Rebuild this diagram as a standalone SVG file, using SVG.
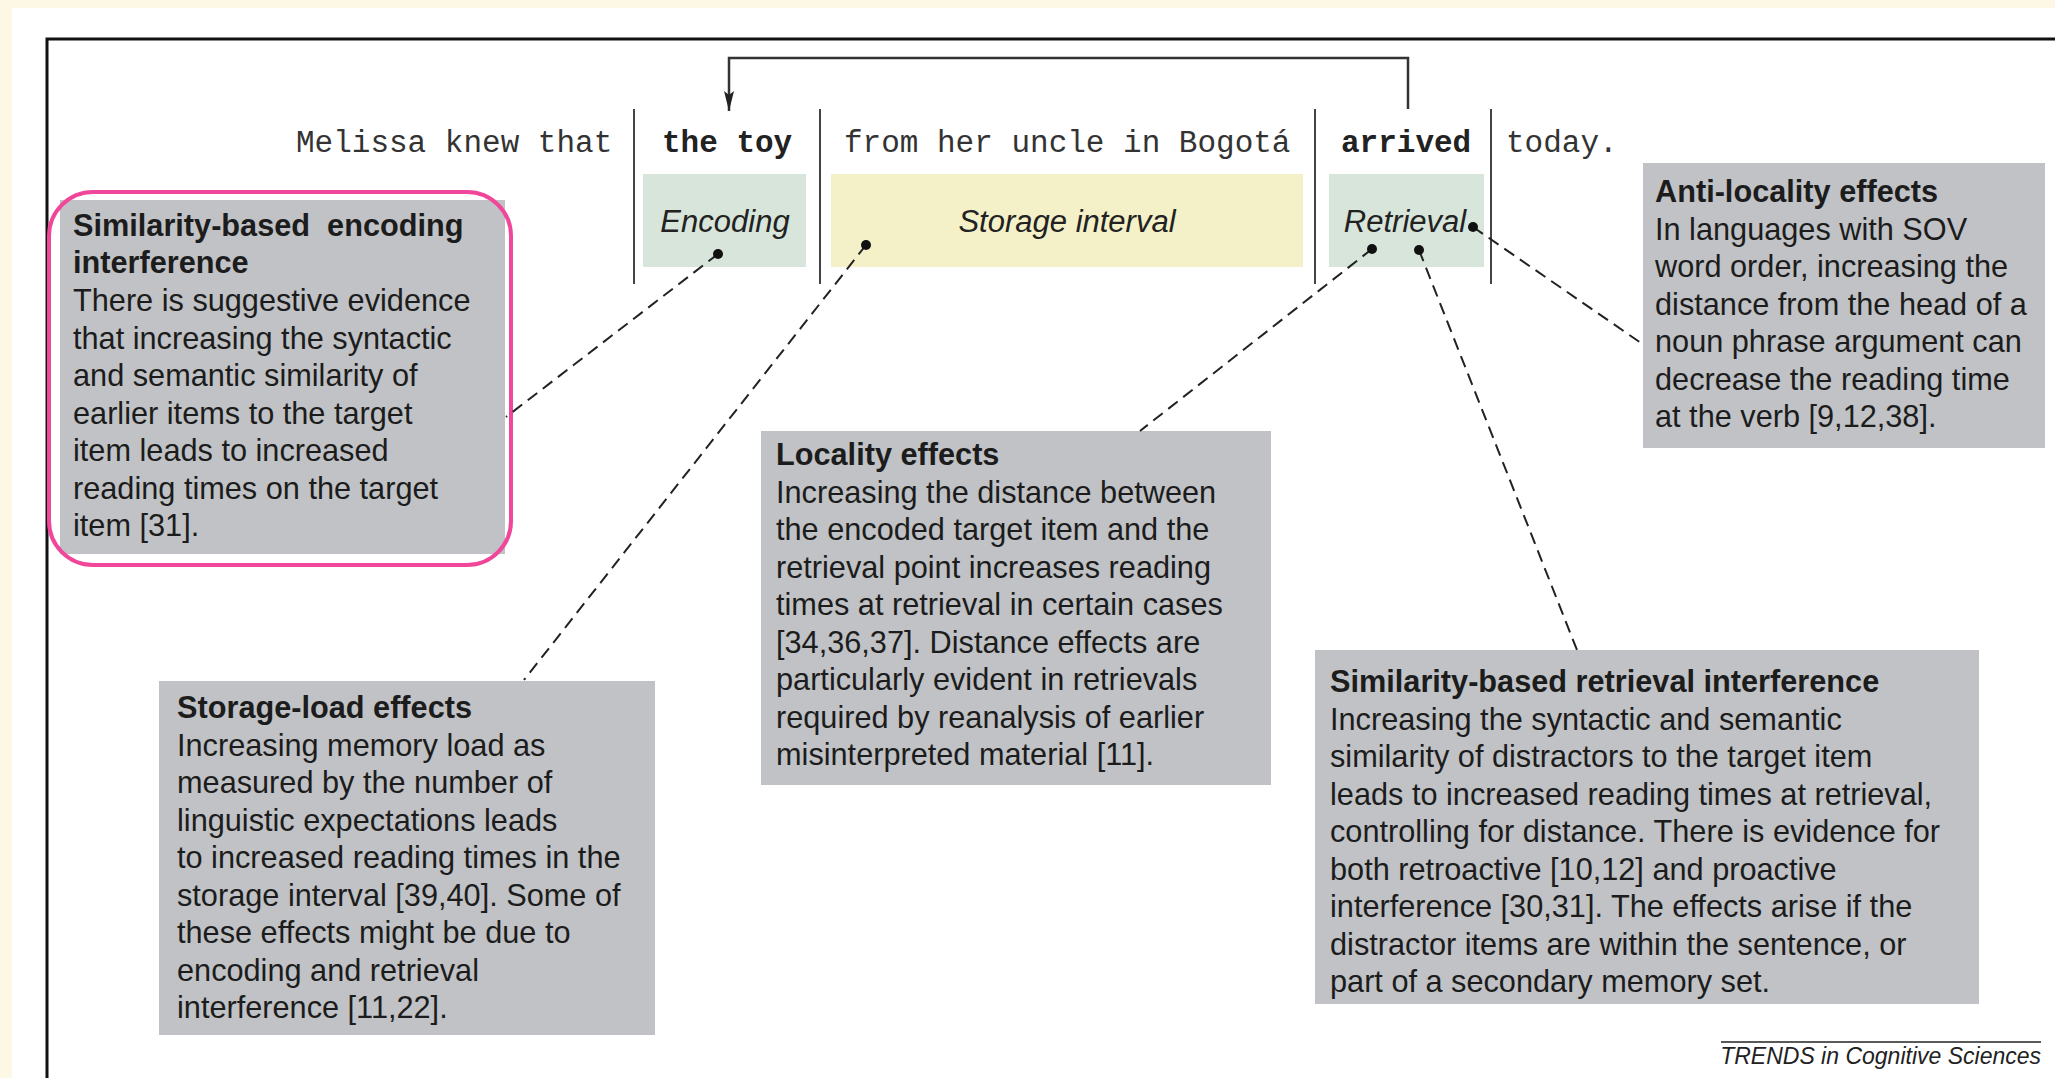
<svg xmlns="http://www.w3.org/2000/svg" width="2055" height="1078" viewBox="0 0 2055 1078">
<style>
.mono{font-family:"Liberation Mono","DejaVu Sans Mono",monospace;font-size:31px;fill:#333}
.monob{font-family:"Liberation Mono","DejaVu Sans Mono",monospace;font-size:31px;font-weight:bold;fill:#222}
.lbl{font-family:"Liberation Sans",Arial,sans-serif;font-size:31px;font-style:italic;fill:#222;text-anchor:middle}
.box{fill:#c0c2c5}
.t{font-family:"Liberation Sans",Arial,sans-serif;font-size:30.7px;fill:#1c1c1c}
.h{font-weight:bold}
.sep{stroke:#444;stroke-width:2}
.dash{stroke:#222;stroke-width:2;stroke-dasharray:12 7;fill:none}
.dot{fill:#111}
</style>
<defs>
<marker id="ah" viewBox="0 0 20 10" refX="20" refY="5" markerWidth="20" markerHeight="10" markerUnits="userSpaceOnUse" orient="auto">
<path d="M0,0 L20,5 L0,10 L4,5 Z" fill="#222"/>
</marker>
</defs>
<rect x="0" y="0" width="2055" height="1078" fill="#fdf8e6"/>
<rect x="12" y="8" width="2043" height="1070" fill="#ffffff"/>
<path d="M47,1078 V39 H2055" fill="none" stroke="#111" stroke-width="3"/>

<g id="sentence">
<text class="mono" x="296" y="152">Melissa knew that</text>
<text class="monob" x="662" y="152">the toy</text>
<text class="mono" x="844" y="152">from her uncle in Bogotá</text>
<text class="monob" x="1341" y="152">arrived</text>
<text class="mono" x="1506" y="152">today.</text>
<line class="sep" x1="634" y1="109" x2="634" y2="284"/>
<line class="sep" x1="820" y1="109" x2="820" y2="284"/>
<line class="sep" x1="1315" y1="109" x2="1315" y2="284"/>
<line class="sep" x1="1491" y1="109" x2="1491" y2="284"/>
</g>

<g id="encoding">
<rect x="643" y="174" width="163" height="93" fill="#d7e5da"/>
<text class="lbl" x="725" y="232">Encoding</text>
</g>
<g id="storage">
<rect x="831" y="174" width="472" height="93" fill="#f4f0c8"/>
<text class="lbl" x="1067" y="232">Storage interval</text>
</g>
<g id="retrieval">
<rect x="1329" y="174" width="155" height="93" fill="#d7e5da"/>
<text class="lbl" x="1405" y="232">Retrieval</text>
</g>

<g id="box-encoding-interference">
<rect class="box" x="60" y="200" width="445" height="354"/>
<rect x="49" y="192" width="462" height="373" rx="44" ry="44" fill="none" stroke="#f0479a" stroke-width="4"/>
<text class="t" x="73" y="236"><tspan class="h">Similarity-based &#160;encoding</tspan><tspan class="h" x="73" dy="37">interference</tspan><tspan x="73" dy="38">There is suggestive evidence</tspan><tspan x="73" dy="37.5">that increasing the syntactic</tspan><tspan x="73" dy="37.5">and semantic similarity of</tspan><tspan x="73" dy="37.5">earlier items to the target</tspan><tspan x="73" dy="37.5">item leads to increased</tspan><tspan x="73" dy="37.5">reading times on the target</tspan><tspan x="73" dy="37.5">item [31].</tspan></text>
</g>

<g id="box-anti-locality">
<rect class="box" x="1643" y="163" width="402" height="285"/>
<text class="t" x="1655" y="202"><tspan class="h">Anti-locality effects</tspan><tspan x="1655" dy="37.5">In languages with SOV</tspan><tspan x="1655" dy="37.5">word order, increasing the</tspan><tspan x="1655" dy="37.5">distance from the head of a</tspan><tspan x="1655" dy="37.5">noun phrase argument can</tspan><tspan x="1655" dy="37.5">decrease the reading time</tspan><tspan x="1655" dy="37.5">at the verb [9,12,38].</tspan></text>
</g>

<g id="box-locality">
<rect class="box" x="761" y="431" width="510" height="354"/>
<text class="t" x="776" y="465"><tspan class="h">Locality effects</tspan><tspan x="776" dy="37.5">Increasing the distance between</tspan><tspan x="776" dy="37.5">the encoded target item and the</tspan><tspan x="776" dy="37.5">retrieval point increases reading</tspan><tspan x="776" dy="37.5">times at retrieval in certain cases</tspan><tspan x="776" dy="37.5">[34,36,37]. Distance effects are</tspan><tspan x="776" dy="37.5">particularly evident in retrievals</tspan><tspan x="776" dy="37.5">required by reanalysis of earlier</tspan><tspan x="776" dy="37.5">misinterpreted material [11].</tspan></text>
</g>

<g id="box-storage-load">
<rect class="box" x="159" y="681" width="496" height="354"/>
<text class="t" x="177" y="718"><tspan class="h">Storage-load effects</tspan><tspan x="177" dy="37.5">Increasing memory load as</tspan><tspan x="177" dy="37.5">measured by the number of</tspan><tspan x="177" dy="37.5">linguistic expectations leads</tspan><tspan x="177" dy="37.5">to increased reading times in the</tspan><tspan x="177" dy="37.5">storage interval [39,40]. Some of</tspan><tspan x="177" dy="37.5">these effects might be due to</tspan><tspan x="177" dy="37.5">encoding and retrieval</tspan><tspan x="177" dy="37.5">interference [11,22].</tspan></text>
</g>

<g id="box-retrieval-interference">
<rect class="box" x="1315" y="650" width="664" height="354"/>
<text class="t" x="1330" y="692"><tspan class="h">Similarity-based retrieval interference</tspan><tspan x="1330" dy="37.5">Increasing the syntactic and semantic</tspan><tspan x="1330" dy="37.5">similarity of distractors to the target item</tspan><tspan x="1330" dy="37.5">leads to increased reading times at retrieval,</tspan><tspan x="1330" dy="37.5">controlling for distance. There is evidence for</tspan><tspan x="1330" dy="37.5">both retroactive [10,12] and proactive</tspan><tspan x="1330" dy="37.5">interference [30,31]. The effects arise if the</tspan><tspan x="1330" dy="37.5">distractor items are within the sentence, or</tspan><tspan x="1330" dy="37.5">part of a secondary memory set.</tspan></text>
</g>

<g id="connectors">
<path d="M1408,109 V58 H729 V111" fill="none" stroke="#333" stroke-width="2.5" marker-end="url(#ah)"/>
<line class="dash" x1="718" y1="254" x2="506" y2="417"/>
<line class="dash" x1="866" y1="245" x2="524" y2="680"/>
<line class="dash" x1="1372" y1="249" x2="1140" y2="431"/>
<line class="dash" x1="1419" y1="250" x2="1577" y2="650"/>
<line class="dash" x1="1473" y1="227" x2="1641" y2="343"/>
<circle class="dot" cx="718" cy="254" r="5"/>
<circle class="dot" cx="866" cy="245" r="5"/>
<circle class="dot" cx="1372" cy="249" r="5"/>
<circle class="dot" cx="1419" cy="250" r="5"/>
<circle class="dot" cx="1473" cy="227" r="5"/>
</g>

<g id="credit">
<line x1="1721" y1="1042" x2="2041" y2="1042" stroke="#222" stroke-width="1.5"/>
<text x="2041" y="1064" font-family="Liberation Sans, Arial, sans-serif" font-size="23" font-style="italic" fill="#222" text-anchor="end">TRENDS in Cognitive Sciences</text>
</g>
</svg>
